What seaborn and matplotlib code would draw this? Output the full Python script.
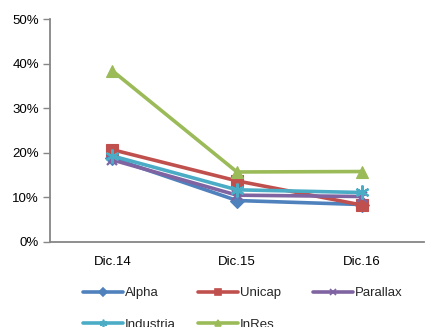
import matplotlib
matplotlib.use("Agg")
import matplotlib.pyplot as plt
import seaborn as sns
import pandas as pd
from matplotlib.lines import Line2D
from matplotlib.ticker import PercentFormatter

periods = ["Dic.14", "Dic.15", "Dic.16"]
alpha = [18.8, 9.3, 8.4]
unicap = [20.7, 13.7, 8.3]
parallax = [18.4, 10.5, 10.2]
industria = [19.3, 11.7, 11.1]
inres = [38.4, 15.7, 15.8]

series = ["Alpha", "Unicap", "Parallax", "Industria", "InRes"]
values = [alpha, unicap, parallax, industria, inres]
colors = ["#4F81BD", "#C0504D", "#8064A2", "#4BACC6", "#9BBB59"]
markers = ["D", "s", "x", (6, 2, 0), "^"]
msizes = [7, 9, 7, 10, 9]

rows = []
for name, vals in zip(series, values):
    for i, v in enumerate(vals):
        rows.append({"Periodo": i, "Serie": name, "Valor": v})
df = pd.DataFrame(rows)

sns.set_style("white")
plt.rcParams["font.family"] = ["Liberation Sans", "DejaVu Sans"]

fig = plt.figure(figsize=(4.25, 3.27), dpi=100)
ax = fig.add_axes([50 / 425, 85 / 327, 374 / 425, 223 / 327])

for name, col, mk, ms in zip(series, colors, markers, msizes):
    sub = df[df["Serie"] == name]
    sns.lineplot(data=sub, x="Periodo", y="Valor", ax=ax, color=col,
                 marker=mk, markersize=ms, linewidth=2.6,
                 markeredgecolor=col, markeredgewidth=1.6 if mk in ("x", (6, 2, 0)) else 0.8,
                 legend=False)

ax.set_xlim(-0.5, 2.5)
ax.set_ylim(0, 50)
ax.set_yticks([0, 10, 20, 30, 40, 50])
ax.yaxis.set_major_formatter(PercentFormatter(decimals=0))
ax.set_xticks([0, 1, 2])
ax.set_xticklabels(periods)
ax.set_xticks([0.5, 1.5, 2.5], minor=True)
ax.tick_params(axis="x", which="major", length=0, pad=10, labelsize=9.5, colors="black")
ax.tick_params(axis="x", which="minor", length=5, width=1, color="#868686", direction="inout")
ax.tick_params(axis="y", which="major", length=5, width=1, color="#868686", labelsize=9.5,
               labelcolor="black", pad=3, left=True)
ax.set_xlabel("")
ax.set_ylabel("")
for s in ("top", "right"):
    ax.spines[s].set_visible(False)
for s in ("left", "bottom"):
    ax.spines[s].set_color("#868686")
    ax.spines[s].set_linewidth(1.3)

handles = {name: Line2D([0], [0], color=c, marker=m, markersize=ms * 0.55, linewidth=2.6,
                        markeredgecolor=c, markeredgewidth=1.2)
           for name, c, m, ms in zip(series, colors, markers, msizes)}

# legend laid out as fixed-width columns below the plot
columns = [(83, ["Alpha", "Industria"]), (198, ["Unicap", "InRes"]), (313, ["Parallax"])]
for x0, names in columns:
    leg = fig.legend([handles[n] for n in names], names, loc="upper left",
                     bbox_to_anchor=(x0 / 425, 1 - 287 / 327),
                     ncol=1, frameon=False, fontsize=9.5, handlelength=3.0,
                     handletextpad=0.15, labelspacing=1.45, borderaxespad=0, borderpad=0)

fig.savefig("out.png", dpi=100)
